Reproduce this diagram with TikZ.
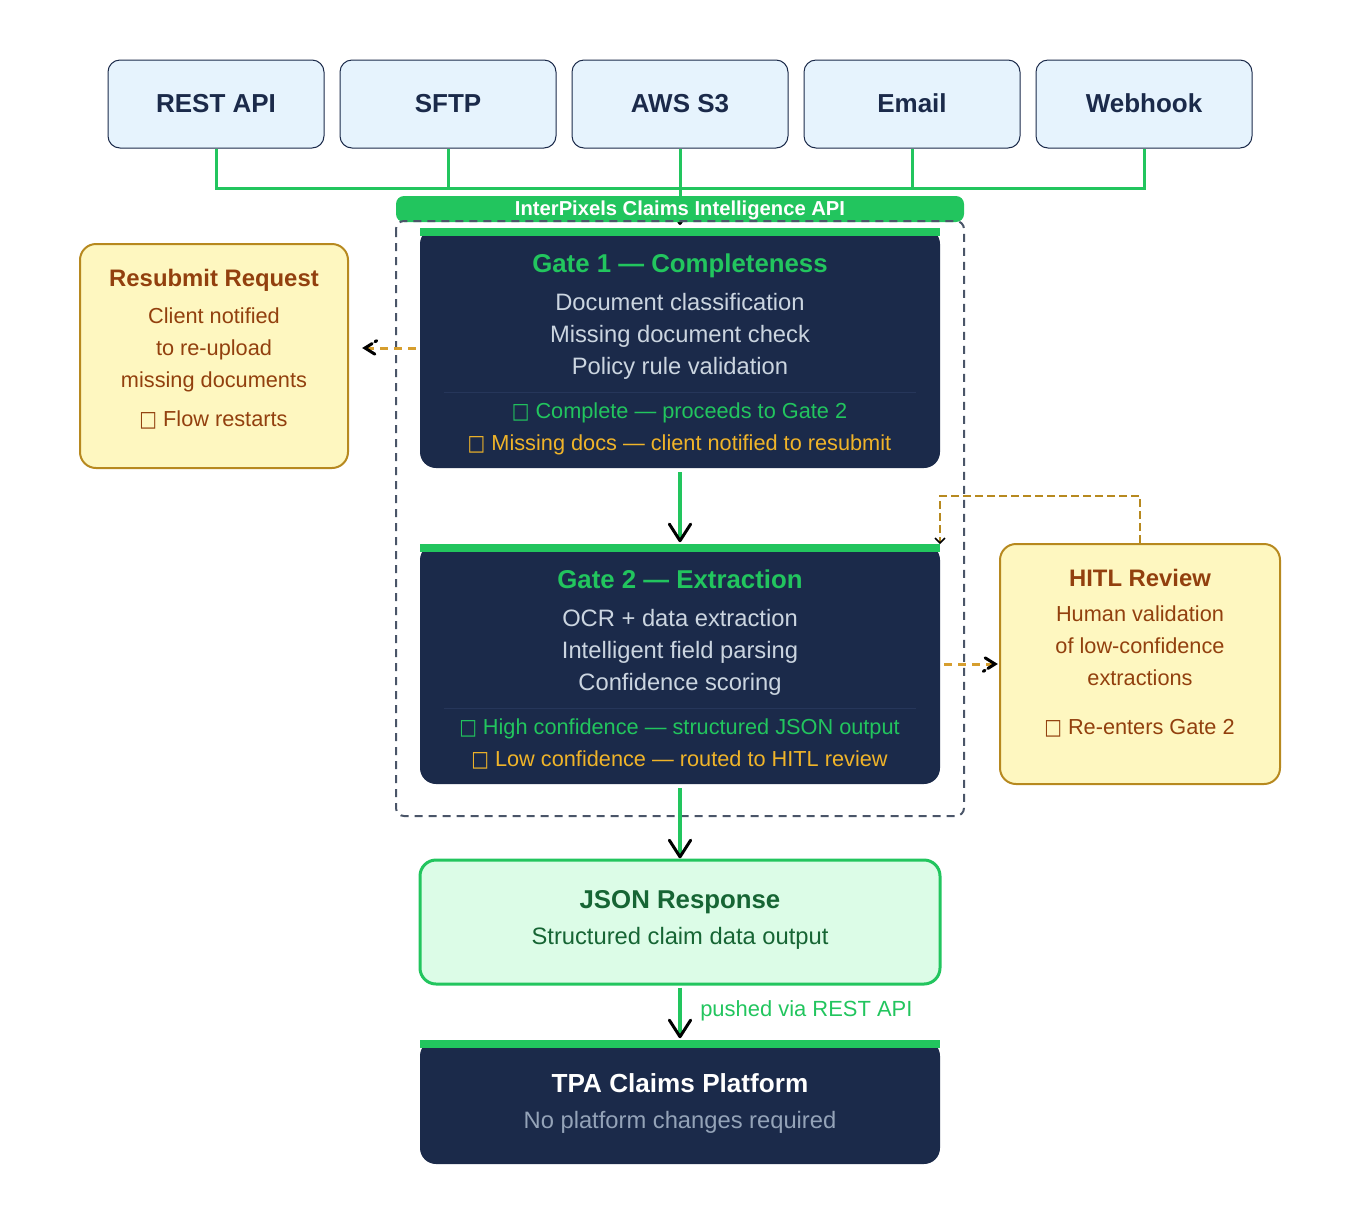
\documentclass[tikz,border=0pt]{standalone}
\usepackage{fontspec}
\setmainfont{Liberation Sans}
\newfontfamily\boxfont[FakeStretch=0.86]{DejaVu Sans}
\usetikzlibrary{decorations.markings}
\usetikzlibrary{arrows.meta}
\definecolor{navy}{HTML}{1B2A4A}
\definecolor{apigreen}{HTML}{22C55E}
\definecolor{amberline}{HTML}{D69E2E}
\definecolor{amberedge}{HTML}{B7891F}
\definecolor{ambertext}{HTML}{92400E}
\definecolor{amberfill}{HTML}{FEF7C0}
\definecolor{sourcefill}{HTML}{E6F3FD}
\definecolor{jsonfill}{HTML}{DCFCE7}
\definecolor{jsontext}{HTML}{166534}
\definecolor{bodytext}{HTML}{CBD5E0}
\definecolor{warntext}{HTML}{F0B429}
\definecolor{mutetext}{HTML}{94A3B8}
\definecolor{framegray}{HTML}{4A5568}
\definecolor{rulegray}{HTML}{26365A}
\newcommand{\nopic}{{\boxfont\char"25A1}}
\tikzset{%
  px/.style={x=0.75pt,y=-0.75pt},
  source/.style={draw=navy,line width=0.75pt,fill=sourcefill,rounded corners=9pt,
                 minimum width=162pt,minimum height=66pt,inner sep=0pt,
                 text height=14pt,text depth=2pt,
                 text=navy,font=\fontsize{19.5}{23}\bfseries\selectfont},
  gate/.style={fill=navy,rounded corners=12pt,minimum width=390pt,inner sep=0pt},
  note/.style={draw=amberedge,line width=1.5pt,fill=amberfill,rounded corners=12pt,
               inner sep=0pt},
  busline/.style={draw=apigreen,line width=2.25pt},
  title/.style={anchor=base,inner sep=0pt,font=\fontsize{19.35}{23}\bfseries\selectfont},
  notetitle/.style={title,text=ambertext,font=\fontsize{17.9}{22}\bfseries\selectfont},
  body/.style={font=\fontsize{17.8}{24}\selectfont,align=center},
  small/.style={font=\fontsize{16.3}{24}\selectfont,align=center},
  status/.style={small,anchor=base,inner sep=0pt},
  amberdash/.style={amberline,line width=2.25pt,dash pattern=on 6pt off 4.5pt},
  ->k-/.style={draw=apigreen,line width=3pt,
               decoration={markings, mark=at position 1 with {%
                 \draw[black,solid,line width=2.25pt,line cap=round,line join=round]
                   (-12.5pt,-8pt) -- (0,0) -- (-12.5pt,8pt);}},
               postaction={decorate}},
  ->d-/.style={decoration={markings, mark=at position 1 with {%
                 \draw[black,solid,line width=2.25pt,line cap=round,
                       dash pattern=on 15pt off 2.6pt,dash phase=13.5pt]
                   (-8.8pt,-5.5pt) -- (0,0) -- (-8.8pt,5.5pt);}},
               postaction={decorate}},
  ->s-/.style={decoration={markings, mark=at position 1 with {%
                 \draw[black,solid,line width=1.1pt]
                   (-3.75pt,-3.75pt) -- (0,0) -- (-3.75pt,3.75pt);}},
               postaction={decorate}},
}
\begin{document}
\begin{tikzpicture}[px]
  \useasboundingbox (0,0) rectangle (1360,1204);
  % sources
  \node[source] (rest) at (216,104) {REST API};
  \node[source] (sftp) at (448,104) {SFTP};
  \node[source] (aws) at (680,104) {AWS S3};
  \node[source] (email) at (912,104) {Email};
  \node[source] (hook) at (1144,104) {Webhook};
  \coordinate (busl) at (216,188);
  \coordinate (busr) at (1144,188);
  \coordinate (apitip) at (680,223.5);
  \draw[busline] (rest.south) -- (busl) -- (busr) -- (hook.south);
  \foreach \n in {sftp,email}
    \draw[busline] (\n.south) -- (\n.south |- busl);
  \draw[->k-,line width=2.25pt] (aws.south) -- (apitip);
  % api bar
  \node[fill=apigreen,rounded corners=6pt,minimum width=426pt,minimum height=19.5pt,
        inner sep=0pt] (api) at (680,209) {};
  \node[anchor=base,inner sep=0pt,text=white,font=\fontsize{15.15}{18}\bfseries\selectfont]
    (apilabel) at (680,215.5) {InterPixels Claims Intelligence API};
  \draw[framegray,line width=1.5pt,dash pattern=on 6pt off 4.5pt,rounded corners=6pt]
    (396,221) rectangle (964,816);
  % gate 1
  \node[gate,minimum height=180pt] (gate1) at (680,348) {};
  \fill[apigreen] (420,228) rectangle (940,236);
  \node[title,text=apigreen] (g1title) at (680,272) {Gate 1 — Completeness};
  \node[body,text=bodytext] (g1body) at (680,336)
    {Document classification\\Missing document check\\Policy rule validation};
  \draw[rulegray] (444,392) -- (916,392);
  \node[status,text=apigreen] (g1ok) at (679.5,418.5) {\nopic{} Complete — proceeds to Gate 2};
  \node[status,text=warntext] (g1no) at (679.5,450.5) {\nopic{} Missing docs — client notified to resubmit};
  % gate 2
  \node[gate,minimum height=180pt] (gate2) at (680,664) {};
  \fill[apigreen] (420,544) rectangle (940,552);
  \node[title,text=apigreen] (g2title) at (680,588) {Gate 2 — Extraction};
  \node[body,text=bodytext] (g2body) at (680,652)
    {OCR + data extraction\\Intelligent field parsing\\Confidence scoring};
  \draw[rulegray] (444,708) -- (916,708);
  \node[status,text=apigreen] (g2ok) at (679.5,734.5) {\nopic{} High confidence — structured JSON output};
  \node[status,text=warntext] (g2no) at (679.5,766.5) {\nopic{} Low confidence — routed to HITL review};
  % side notes
  \node[note,minimum width=201pt,minimum height=168pt] (resubmit) at (214,356) {};
  \node[notetitle] (retitle) at (214,286) {Resubmit Request};
  \node[small,text=ambertext] (rebody) at (214,350) {Client notified\\to re-upload\\missing documents};
  \node[status,text=ambertext] (reflow) at (213.5,426.5) {\nopic{} Flow restarts};
  \node[note,minimum width=210pt,minimum height=180pt] (hitl) at (1140,664) {};
  \node[notetitle] (hititle) at (1140,586) {HITL Review};
  \node[small,text=ambertext] (hibody) at (1140,646) {Human validation\\of low-confidence\\extractions};
  \node[status,text=ambertext] (hiflow) at (1139.5,734.5) {\nopic{} Re-enters Gate 2};
  % json and platform
  \node[draw=apigreen,line width=2.25pt,fill=jsonfill,rounded corners=12pt,
        minimum width=390pt,minimum height=93pt,inner sep=0pt] (json) at (680,922) {};
  \node[title,text=jsontext] (jstitle) at (680,908) {JSON Response};
  \node[body,text=jsontext] (jsbody) at (680,938) {Structured claim data output};
  \node[gate,minimum height=93pt] (tpa) at (680,1102) {};
  \fill[apigreen] (420,1040) rectangle (940,1048);
  \node[title,text=white,font=\fontsize{19.6}{23}\bfseries\selectfont] (tptitle) at (680,1092) {TPA Claims Platform};
  \node[body,text=mutetext] (tpbody) at (680,1122) {No platform changes required};
  % connectors
  \draw[->k-] ([yshift=-3pt]gate1.south) -- ([yshift=2.25pt]gate2.north);
  \draw[->k-] ([yshift=-3pt]gate2.south) -- ([yshift=1.25pt]json.north);
  \draw[->k-] ([yshift=-1.5pt]json.south) -- ([yshift=2.25pt]tpa.north);
  \node[status,text=apigreen,anchor=base west,font=\fontsize{16.45}{24}\selectfont] (pushed) at (700,1016.5) {pushed via REST API};
  \coordinate (retip) at (365,348);
  \coordinate (hitip) at (995,664);
  \coordinate (loop) at (940,496);
  \coordinate (lotip) at (940,543);
  \draw[amberdash,->d-] ([xshift=-3pt]gate1.west) -- (retip);
  \draw[amberdash,->d-] ([xshift=3pt]gate2.east) -- (hitip);
  \draw[amberedge,line width=1.5pt,dash pattern=on 6pt off 3pt,->s-]
    (hitl.north) |- (loop) -- (lotip);
\end{tikzpicture}
\end{document}
